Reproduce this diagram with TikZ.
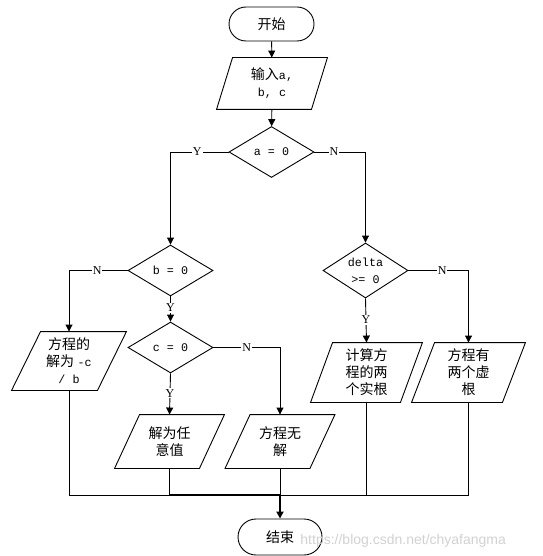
\documentclass[tikz,border=0pt]{standalone}
\usepackage{fontspec}
\setmainfont{Liberation Serif}
\setmonofont{Liberation Mono}
\setsansfont{Liberation Sans}
\newfontfamily\cjk{Noto Sans CJK SC}
\usetikzlibrary{shapes.geometric,arrows.meta}
\newcommand\lat[1]{{\fontsize{11.7}{16}\selectfont\ttfamily #1}}
\begin{document}
\begin{tikzpicture}[x=1pt,y=-1pt,line width=0.9pt,
  every node/.style={font=\fontsize{14}{17}\selectfont},
  term/.style={draw,rounded corners=17pt,minimum width=85pt,minimum height=34pt,inner sep=0pt},
  dec/.style={draw,diamond,minimum width=85pt,minimum height=51pt,inner sep=0pt},
  pbox/.style={inner sep=0pt,align=center},
  lbl/.style={font=\fontsize{12}{13}\selectfont,fill=white,inner sep=1pt},
  arr/.style={-{Triangle[length=7pt,width=7pt]}}]
\useasboundingbox (0,0) rectangle (542,556);

\node[term] (start) at (271.5,24) {\cjk 开始};
\node[pbox,minimum width=110pt,minimum height=51pt] (inp) at (272,83.5) {{\cjk 输入}\lat{a,}\\\lat{b, c}};
\node[dec,label={center:\lat{a = 0}}] (d1) at (271.5,152) {};
\node[dec,label={center:\lat{b = 0}}] (d2) at (170.5,270.5) {};
\node[dec,label={center:\lat{c = 0}}] (d4) at (170.5,347.5) {};
\node[dec,minimum height=55pt,label={[align=center]center:\lat{delta}\\\lat{>= 0}}] (d3) at (365.5,270.5) {};
\node[pbox,minimum width=114pt,minimum height=58pt] (p1) at (69,361) {{\cjk 方程的}\\{\cjk 解为} \lat{-c}\\\lat{/ b}};
\node[pbox,minimum width=109pt,minimum height=53pt] (p2) at (169.5,441.5) {\cjk 解为任\\\cjk 意值};
\node[pbox,minimum width=109pt,minimum height=53pt] (p3) at (280,441.5) {\cjk 方程无\\\cjk 解};
\node[pbox,minimum width=111pt,minimum height=59pt] (p4) at (366.5,372.5) {\cjk 计算方\\\cjk 程的两\\\cjk 个实根};
\node[pbox,minimum width=113pt,minimum height=59pt] (p5) at (468.5,372.5) {\cjk 方程有\\\cjk 两个虚\\\cjk 根};
\node[draw,rounded corners=18pt,minimum width=84pt,minimum height=36pt,inner sep=0pt] (stop) at (280,537) {\cjk 结束};

\foreach \n/\s in {inp/16,p1/29,p2/25,p3/25,p4/22,p5/23}
  \draw ([xshift=\s pt]\n.north west) -- (\n.north east) -- ([xshift=-\s pt]\n.south east) -- (\n.south west) -- cycle;

\draw[arr] (start) -- (inp);
\draw[arr] (inp) -- (d1);
\draw[arr] (d1.west) -| node[lbl,pos=0.27] {Y} (d2.north);
\draw[arr] (d1.east) -| node[lbl,pos=0.19] {N} (d3.north);
\draw[arr] (d2.west) -| node[lbl,pos=0.26] {N} (p1.north);
\draw[arr] (d2.south) -- node[lbl,pos=0.45] {Y} (d4.north);
\draw[arr] (d4.east) -| node[lbl,pos=0.25] {N} (p3.north);
\draw[arr] (d4.south) -- node[lbl,pos=0.48] {Y} (p2.north);
\draw[arr] (d3.east) -| node[lbl,pos=0.28] {N} (p5.north);
\draw[arr] (d3.south) -- node[lbl,pos=0.49] {Y} (p4.north);

\coordinate (ybase) at (0,495);
\coordinate (jm) at (p3.south |- ybase);
\draw (p1.south) |- (jm);
\draw (p5.south) |- (jm);
\draw (p4.south) -- (p4.south |- ybase);
\draw (p3.south) -- (jm);
\draw (p2.south) -- (p2.south |- ybase);
\draw[line width=2.2pt] (p2.south |- ybase) -- (jm);
\draw[line width=2.2pt,arr] (jm) -- (stop.north);

\node[font=\fontsize{14}{16}\selectfont\sffamily,text=black!18,anchor=west,inner sep=0pt] (wm) at (300,541) {https://blog.csdn.net/chyafangma};
\end{tikzpicture}
\end{document}
